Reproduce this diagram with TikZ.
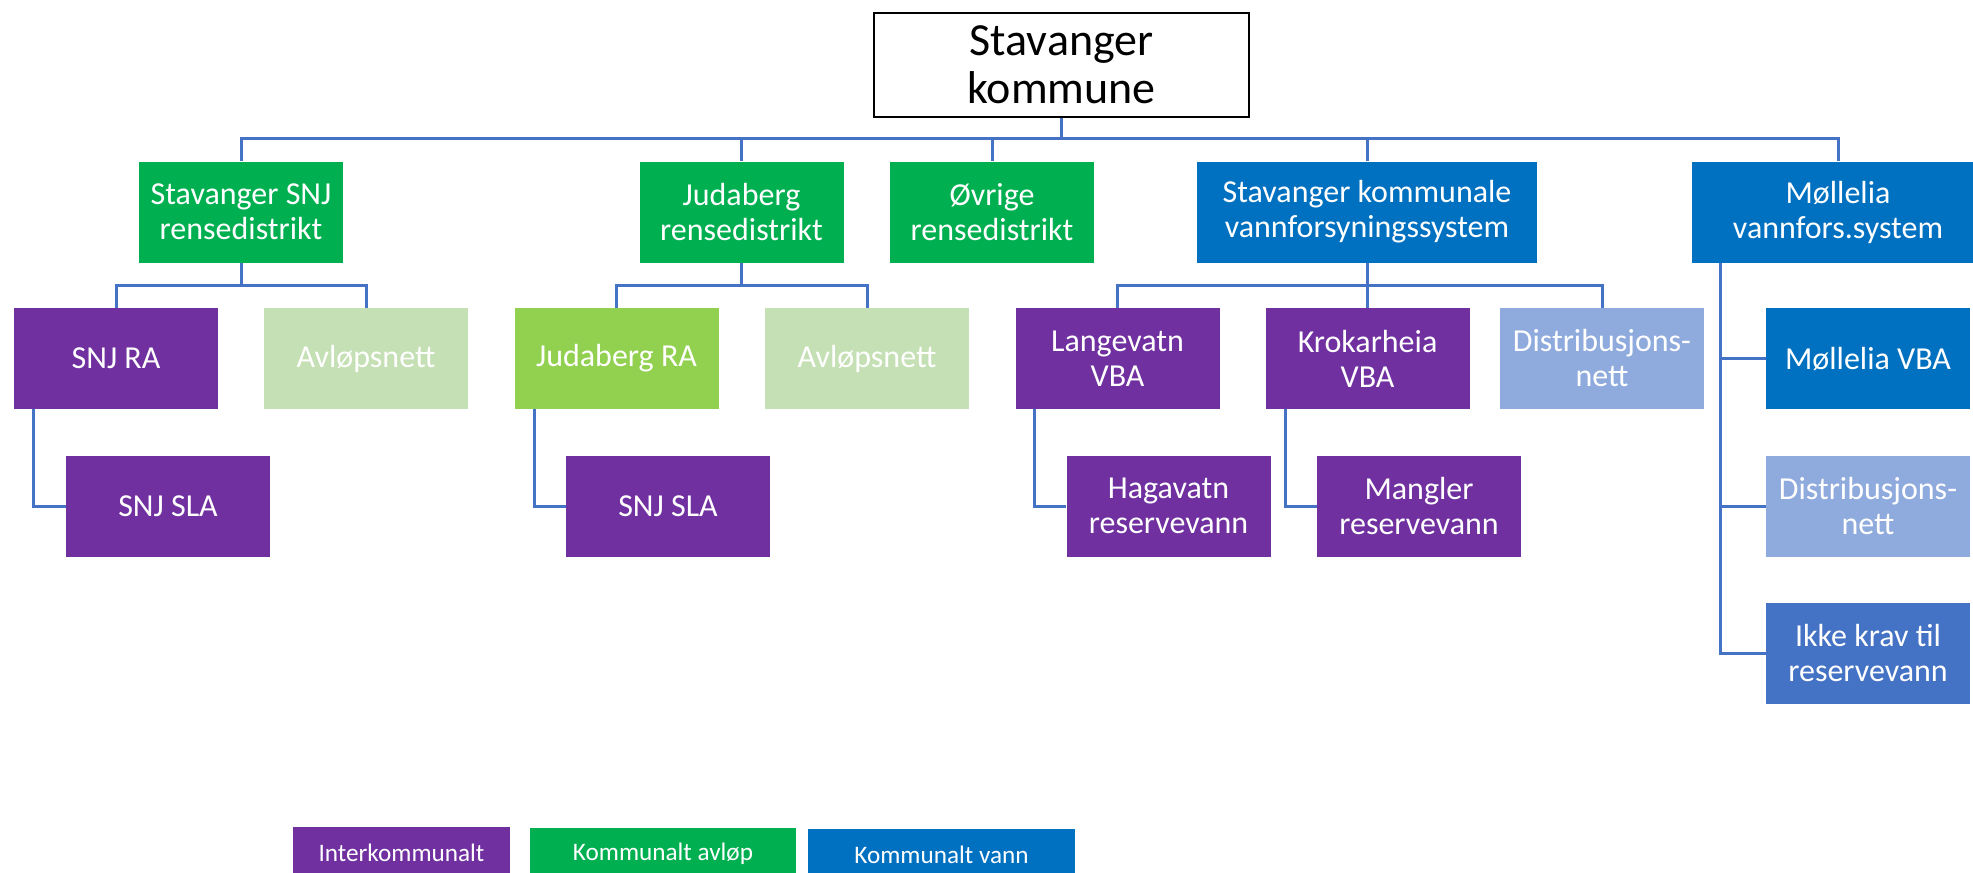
\documentclass[tikz,border=0pt]{standalone}
\usepackage{fontspec}
\setmainfont{Carlito}
\definecolor{purp}{HTML}{7030A0}
\definecolor{grn}{HTML}{00B050}
\definecolor{blu}{HTML}{0070C0}
\definecolor{lgrn}{HTML}{C5E0B4}
\definecolor{bgrn}{HTML}{92D050}
\definecolor{lblu}{HTML}{8FAADC}
\definecolor{mblu}{HTML}{4472C4}
\definecolor{conn}{HTML}{4472C4}
\tikzset{
  box/.style={rectangle, inner sep=0pt, minimum width=102pt, minimum height=50.5pt,
    text=white, align=center, font=\fontsize{16}{17.5}\selectfont},
  wbox/.style={box, minimum width=#1},
  lbox/.style={rectangle, inner sep=0pt, minimum height=25pt, anchor=north,
    text=white, font=\fontsize{12.6}{14}\selectfont},
  cline/.style={draw=conn, line width=1.5pt},
}
\begin{document}
\begin{tikzpicture}[x=0.5pt,y=-0.5pt]
\useasboundingbox (0,0) rectangle (1973,872);
% root
\node[draw=black, line width=1.2pt, fill=white, minimum width=187.5pt, minimum height=52pt,
  inner sep=0pt, align=center, font=\fontsize{23}{24}\selectfont] (root) at (1061.5,65) {Stavanger\\kommune};
% level 1
\node[box, fill=grn] (snj) at (241,212) {Stavanger SNJ\\rensedistrikt};
\node[box, fill=grn] (jud) at (741.5,212) {Judaberg\\rensedistrikt};
\node[box, fill=grn] (ovr) at (992,212) {Øvrige\\rensedistrikt};
\node[wbox=170pt, fill=blu] (skv) at (1367,212) {Stavanger kommunale\\vannforsyningssystem};
\node[wbox=146pt, fill=blu] (mol) at (1838,212) {Møllelia\\vannfors.system};
% level 2
\node[box, fill=purp] (snjra) at (116,358.5) {SNJ RA};
\node[box, fill=lgrn] (avl1) at (366,358.5) {Avløpsnett};
\node[box, fill=bgrn] (judra) at (616.5,358.5) {Judaberg RA};
\node[box, fill=lgrn] (avl2) at (867,358.5) {Avløpsnett};
\node[box, fill=purp] (lang) at (1117.5,358.5) {Langevatn\\VBA};
\node[box, fill=purp] (krok) at (1367.5,358.5) {Krokarheia\\VBA};
\node[box, fill=lblu] (dist1) at (1602,358.5) {Distribusjons-\\nett};
\node[box, fill=blu] (molvba) at (1868,358.5) {Møllelia VBA};
% level 3
\node[box, fill=purp] (sla1) at (168,506) {SNJ SLA};
\node[box, fill=purp] (sla2) at (668,506) {SNJ SLA};
\node[box, fill=purp] (haga) at (1168.5,506) {Hagavatn\\reservevann};
\node[box, fill=purp] (mang) at (1419,506) {Mangler\\reservevann};
\node[box, fill=lblu] (dist2) at (1868,506) {Distribusjons-\\nett};
\node[box, fill=mblu] (ikke) at (1868,653) {Ikke krav til\\reservevann};
% helper coordinates
\coordinate (h0) at (0,138);
\coordinate (h1) at (0,285);
\coordinate (vm) at (1720,0);
\coordinate (va) at (33,0);
\coordinate (vb) at (534,0);
\coordinate (vc) at (1034,0);
\coordinate (vd) at (1285,0);
% connectors level 0-1
\foreach \c in {snj,jud,ovr,skv,mol}
  \draw[cline] (root.south) -- (root.south |- h0) -| (\c.north);
% level 1-2
\foreach \c in {snjra,avl1}
  \draw[cline] (snj.south) -- (snj.south |- h1) -| (\c.north);
\foreach \c in {judra,avl2}
  \draw[cline] (jud.south) -- (jud.south |- h1) -| (\c.north);
\foreach \c in {lang,krok,dist1}
  \draw[cline] (skv.south) -- (skv.south |- h1) -| (\c.north);
\foreach \c in {molvba,dist2,ikke}
  \draw[cline] (mol.south -| vm) |- (\c.west);
% level 2-3
\draw[cline] (snjra.south -| va) |- (sla1.west);
\draw[cline] (judra.south -| vb) |- (sla2.west);
\draw[cline] (lang.south -| vc) |- (haga.west);
\draw[cline] (krok.south -| vd) |- (mang.west);
% legend
\node[lbox, fill=purp, minimum width=108.5pt] (lg1) at (401.5,827) {Interkommunalt};
\node[lbox, fill=grn, minimum width=133pt] (lg2) at (663,828) {Kommunalt avløp};
\node[lbox, fill=blu, minimum width=133.5pt] (lg3) at (941.5,829) {Kommunalt vann};
\end{tikzpicture}
\end{document}
